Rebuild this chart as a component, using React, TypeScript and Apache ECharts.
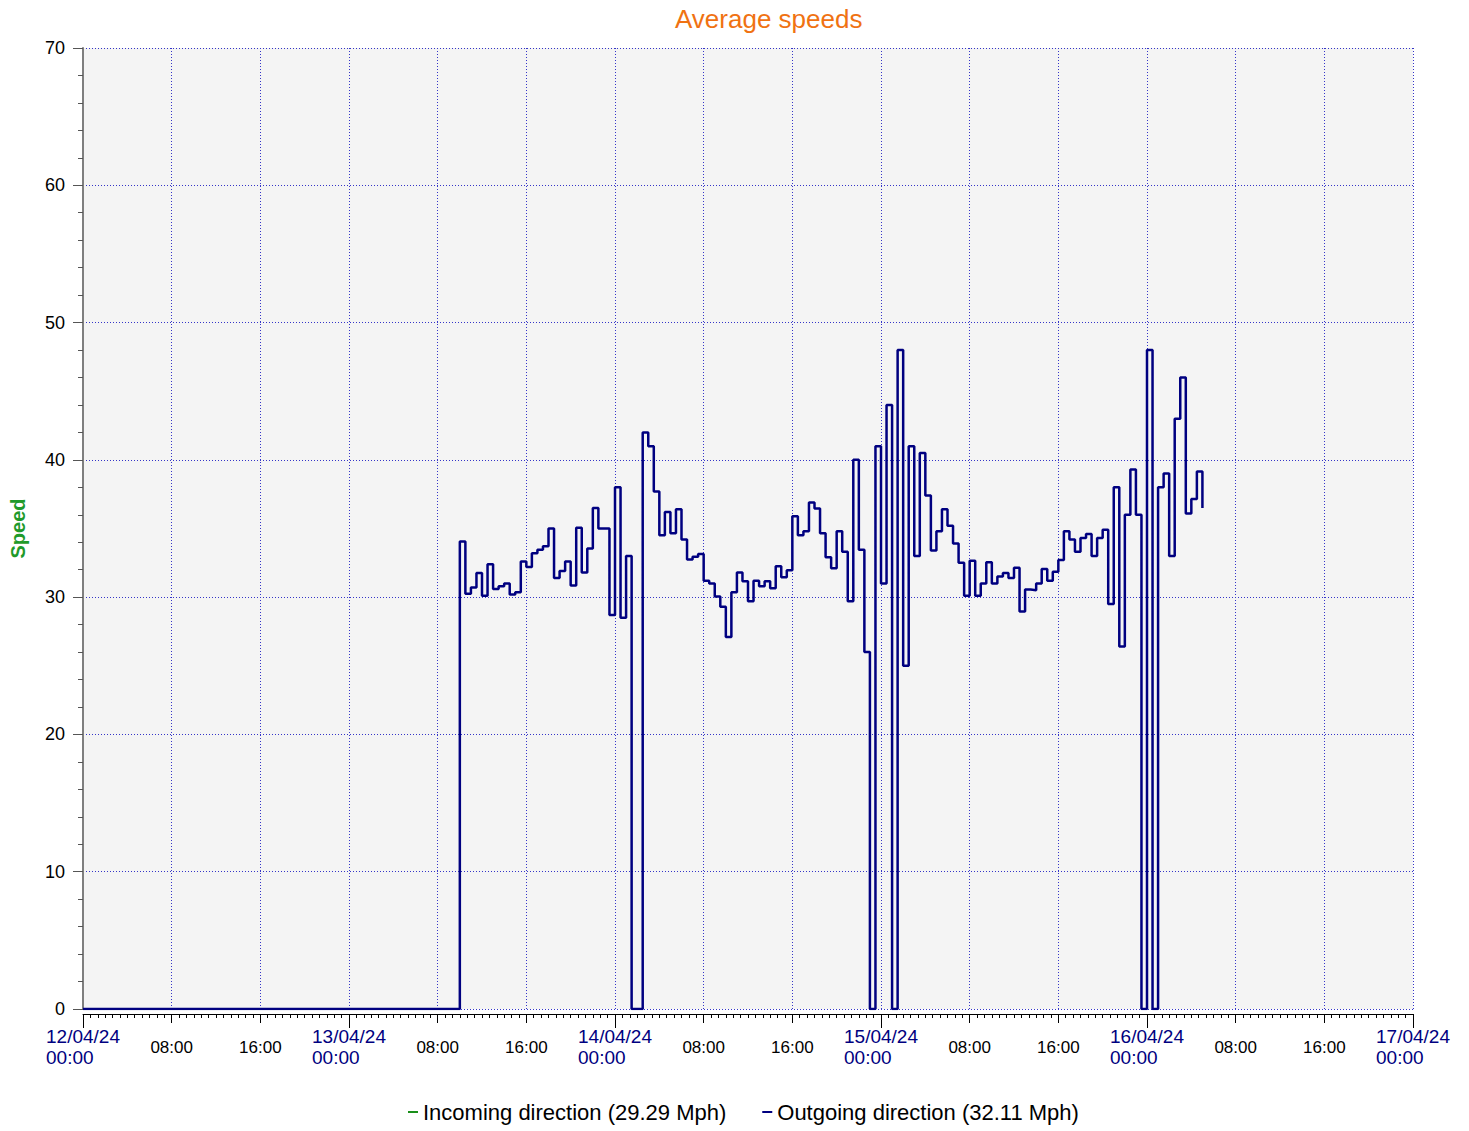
import React, { useEffect, useRef } from "react";
import * as echarts from "echarts";

// 30-minute samples starting 12/04/24 00:00
const startDay = 12;
const stepHours = 0.5;

// Outgoing direction: 12/04 00:00 -> 13/04 09:30 (no traffic)
const outgoingLeadZeros = [
  0, 0, 0, 0, 0, 0, 0, 0, 0, 0, 0, 0, 0, 0, 0, 0, 0, 0, 0, 0,
  0, 0, 0, 0, 0, 0, 0, 0, 0, 0, 0, 0, 0, 0, 0, 0, 0, 0, 0, 0,
  0, 0, 0, 0, 0, 0, 0, 0, 0, 0, 0, 0, 0, 0, 0, 0, 0, 0, 0, 0,
  0, 0, 0, 0, 0, 0, 0, 0,
];

// Outgoing direction: 13/04 10:00 -> 16/04 05:00
const outgoingValues = [
  34.05, 30.25, 30.7, 31.75, 30.1, 32.4, 30.6, 30.8, 31.0, 30.2,
  30.35, 32.6, 32.2, 33.2, 33.45, 33.7, 35.0, 31.4, 31.9, 32.6,
  30.85, 35.05, 31.8, 33.55, 36.5, 35.0, 35.0, 28.7, 38.0, 28.5,
  33.0, 0, 0, 42.0, 41.0, 37.7, 34.5, 36.2, 34.65, 36.4,
  34.2, 32.75, 32.95, 33.15, 31.2, 31.0, 30.05, 29.3, 27.1, 30.35,
  31.8, 31.15, 29.7, 31.2, 30.8, 31.15, 30.65, 32.25, 31.45, 31.95,
  35.9, 34.5, 34.8, 36.9, 36.45, 34.65, 32.9, 32.1, 34.8, 33.3,
  29.7, 40.0, 33.45, 26.0, 0, 41.0, 31.0, 44.0, 0, 48.0,
  25.0, 41.0, 33.0, 40.5, 37.4, 33.4, 34.8, 36.4, 35.2, 33.9,
  32.5, 30.1, 32.65, 30.1, 31.0, 32.55, 31.0, 31.5, 31.75, 31.4,
  32.15, 28.95, 30.55, 30.5, 31.0, 32.05, 31.2, 31.85, 32.7, 34.8,
  34.2, 33.3, 34.3, 34.6, 33.0, 34.3, 34.9, 29.5, 38.0, 26.4,
  36.0, 39.3, 36.0, 0, 48.0, 0, 38.0, 39.0, 33.0, 43.0,
  46.0, 36.1, 37.15, 39.15, 36.5,
];

// Incoming direction: no samples drawn
const incomingValues: number[] = [];

const seriesNames = ["Incoming direction (29.29 Mph)", "Outgoing direction (32.11 Mph)"];
const yTicks = [0, 10, 20, 30, 40, 50, 60, 70];
const xRangeHours = [0, 120];

const FONT = "'Liberation Sans', Arial, sans-serif";

export default function App() {
  const ref = useRef<HTMLDivElement>(null);

  useEffect(() => {
    if (!ref.current) return;
    const chart = echarts.init(ref.current, undefined, { renderer: "svg" });

    const outgoing = outgoingLeadZeros.concat(outgoingValues);
    const outgoingData = outgoing.map((v, i) => [i * stepHours, v]);
    const incomingData = incomingValues.map((v, i) => [i * stepHours, v]);

    const pad = (n: number) => (n < 10 ? "0" + n : "" + n);
    const xFormatter = (h: number) => {
      const hour = Math.round(h) % 24;
      if (hour === 0) {
        const day = startDay + Math.round(h) / 24;
        return `{d|${pad(day)}/04/24}\n{d|00:00}`;
      }
      return `{t|${pad(hour)}:00}`;
    };

    const gridColor = "#3535c8";

    chart.setOption({
      animation: false,
      backgroundColor: "#ffffff",
      title: {
        text: "Average speeds",
        left: 670,
        top: 1,
        textStyle: { color: "#F07212", fontSize: 26, fontWeight: "normal", fontFamily: FONT },
      },
      legend: {
        data: seriesNames,
        left: 403,
        top: 1096,
        icon: "rect",
        itemWidth: 10,
        itemHeight: 2,
        itemGap: 36,
        textStyle: { fontSize: 22, color: "#000", fontFamily: FONT },
      },
      grid: {
        left: 83,
        right: 56,
        top: 48,
        bottom: 122,
        show: true,
        backgroundColor: "#f4f4f4",
        borderWidth: 0,
      },
      xAxis: [
        {
          type: "value",
          min: xRangeHours[0],
          max: xRangeHours[1],
          interval: 8,
          position: "bottom",
          offset: 5,
          axisLine: { show: true, onZero: false, lineStyle: { color: "#000", width: 1 } },
          axisTick: { show: true, length: 9, lineStyle: { color: "#000" } },
          minorTick: { show: true, splitNumber: 12, length: 4, lineStyle: { color: "#000" } },
          axisLabel: {
            formatter: xFormatter,
            verticalAlign: "middle",
            margin: 33,
            showMinLabel: true,
            showMaxLabel: true,
            hideOverlap: false,
            fontFamily: FONT,
            rich: {
              d: { color: "#000080", fontSize: 19, lineHeight: 21, width: 74, align: "left", fontFamily: FONT },
              t: { color: "#000", fontSize: 17, fontFamily: FONT },
            },
          },
          splitLine: {
            show: true,
            showMinLine: false,
            lineStyle: { color: gridColor, type: [1, 2], width: 1 },
          },
        },
        {
          type: "value",
          min: xRangeHours[0],
          max: xRangeHours[1],
          interval: 24,
          position: "bottom",
          offset: 5,
          axisLine: { show: false, onZero: false },
          axisTick: { show: true, length: 14, lineStyle: { color: "#000" } },
          axisLabel: { show: false },
          splitLine: { show: false },
        },
      ],
      yAxis: {
        type: "value",
        min: 0,
        max: 70,
        interval: 10,
        offset: 3,
        name: "Speed",
        nameLocation: "middle",
        nameGap: 52,
        nameRotate: 90,
        nameTextStyle: { color: "#1f9a2a", fontSize: 20, fontWeight: "bold", fontFamily: FONT },
        axisLine: { show: true, lineStyle: { color: "#7f7f7f", width: 2 } },
        axisTick: { show: true, length: 10, lineStyle: { color: "#555" } },
        minorTick: { show: true, splitNumber: 5, length: 5, lineStyle: { color: "#555" } },
        axisLabel: {
          color: "#000",
          fontSize: 18,
          margin: 15,
          fontFamily: FONT,
          formatter: (v: number) => (yTicks.indexOf(v) >= 0 ? String(v) : ""),
        },
        splitLine: { show: true, lineStyle: { color: gridColor, type: [1, 2], width: 1 } },
      },
      series: [
        {
          name: seriesNames[0],
          type: "line",
          step: "end",
          data: incomingData,
          showSymbol: false,
          symbol: "none",
          color: "#1a8f1a",
          lineStyle: { color: "#1a8f1a", width: 2.5 },
        },
        {
          name: seriesNames[1],
          type: "line",
          step: "end",
          data: outgoingData,
          showSymbol: false,
          symbol: "none",
          color: "#000080",
          lineStyle: { color: "#000080", width: 2.5 },
        },
      ],
    });

    return () => chart.dispose();
  }, []);

  return (
    <div
      ref={ref}
      style={{ position: "absolute", left: 0, top: 0, width: 1469, height: 1131, background: "#fff" }}
    />
  );
}
